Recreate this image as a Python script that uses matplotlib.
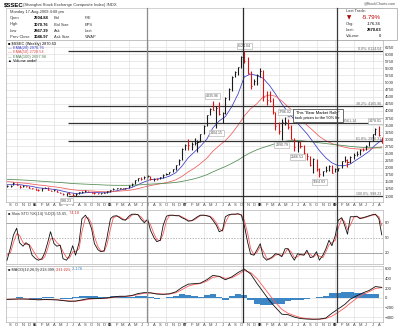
import numpy as np
import pandas as pd
import matplotlib
matplotlib.use("Agg")
import matplotlib.pyplot as plt
import matplotlib.dates as mdates
from matplotlib.lines import Line2D
from matplotlib.patches import Rectangle
from matplotlib.transforms import blended_transform_factory

plt.rcParams["font.family"] = ["Liberation Sans", "DejaVu Sans"]

W, H = 400, 330

# price bars (weekly chart, read twice a month)
bar_dates = pd.date_range("2004-08-15", "2009-08-15", freq="SMS")
bar_high = [1380, 1400, 1496, 1470, 1400, 1375, 1370, 1340, 1300,
            1270, 1240, 1300, 1330, 1310, 1230, 1240, 1220, 1160, 1110, 1100, 1150,
            1090, 1090, 1150, 1170, 1220, 1180, 1160, 1130, 1110, 1110, 1130, 1170,
            1220, 1270, 1300, 1300, 1300, 1300, 1380, 1450, 1560, 1650, 1680, 1690,
            1757, 1710, 1640, 1620, 1680, 1760, 1800, 1840, 1950, 2100, 2300, 2690,
            2850, 3000, 2900, 3050, 2980, 3200, 3500, 3850, 4100, 4335.96, 4180, 4300,
            3950, 4480, 4800, 5220, 5390, 5560, 5920, 6124.04, 5900, 5400, 5130, 5300,
            5522, 5450, 4700, 4700, 4450, 3950, 3600, 3700, 3786.02, 3700, 3500, 3050,
            2950, 2950, 2800, 2500, 2420, 2330, 2290, 2000, 1900, 2050, 2100, 2100,
            1990, 2000, 2250, 2400, 2300, 2400, 2500, 2590, 2650, 2680, 2800, 2950,
            3200, 3400, 3478.01, 3070]
bar_low = [1330, 1330, 1380, 1380, 1300, 1320, 1320, 1280, 1250,
           1220, 1190, 1190, 1280, 1220, 1170, 1170, 1140, 1090, 1040, 998.23, 1060,
           1010, 1010, 1080, 1120, 1140, 1140, 1100, 1080, 1070, 1075, 1090, 1110,
           1160, 1200, 1250, 1260, 1260, 1260, 1290, 1370, 1440, 1540, 1560, 1600,
           1660, 1580, 1540, 1560, 1590, 1650, 1740, 1780, 1830, 1930, 2080, 2270,
           2610, 2640, 2610, 2800, 2540, 2900, 3180, 3460, 3840, 4050, 3404.15, 3850,
           3563, 3900, 4400, 4700, 5200, 5280, 5500, 5700, 5300, 4780, 4900, 4900,
           5200, 4360, 4200, 4300, 3900, 3330, 3200, 2990.79, 3500, 3350, 3000, 2600,
           2566.53, 2700, 2450, 2280, 2050, 1802, 1900, 1664.93, 1700, 1850, 1870, 1814,
           1860, 1880, 1990, 2200, 2037, 2180, 2300, 2400, 2450, 2600, 2620, 2760,
           2950, 3150, 3130, 2867.39]
bar_close = [1342, 1370, 1470, 1390, 1320, 1360, 1340, 1290, 1266,
             1230, 1200, 1290, 1300, 1230, 1180, 1220, 1160, 1100, 1060, 1090, 1080,
             1020, 1080, 1140, 1160, 1180, 1155, 1110, 1095, 1090, 1100, 1120, 1161,
             1210, 1258, 1290, 1290, 1280, 1298, 1370, 1440, 1550, 1620, 1600, 1670,
             1700, 1610, 1610, 1600, 1660, 1750, 1790, 1830, 1940, 2090, 2280, 2675,
             2800, 2790, 2850, 2880, 2920, 3180, 3480, 3840, 4070, 4050, 4100, 3900,
             3910, 4470, 4760, 5210, 5360, 5550, 5900, 5750, 5320, 4870, 5050, 5260,
             5400, 4500, 4400, 4350, 3950, 3470, 3300, 3600, 3600, 3430, 3020, 2740,
             2900, 2760, 2500, 2400, 2080, 2290, 1950, 1770, 1870, 1920, 2050, 1820,
             1950, 1990, 2250, 2260, 2200, 2370, 2450, 2480, 2640, 2630, 2770, 2950,
             3180, 3370, 3160, 2870.63]

# moving averages, read once a month
ma_dates = pd.date_range("2004-08-01", "2009-08-01", freq="MS") + pd.Timedelta(days=14)
ema20 = [1400, 1400, 1400, 1370, 1340,
         1290, 1270, 1250, 1220, 1170, 1120, 1090, 1100, 1130, 1130, 1115, 1120,
         1160, 1210, 1250, 1300, 1400, 1500, 1580, 1600, 1630, 1700, 1820, 2050,
         2350, 2560, 2750, 3000, 3400, 3650, 3800, 4150, 4600, 5200, 5300, 5250,
         5150, 4900, 4600, 4250, 3950, 3700, 3450, 3200, 2900, 2600, 2350, 2170,
         2070, 2070, 2130, 2280, 2420, 2580, 2800, 2976.76]
ema50 = [1510, 1490, 1470, 1450, 1420,
         1390, 1370, 1340, 1315, 1280, 1240, 1210, 1195, 1185, 1170, 1155, 1150,
         1160, 1175, 1190, 1215, 1260, 1320, 1370, 1410, 1450, 1500, 1570, 1690,
         1850, 1990, 2140, 2330, 2580, 2780, 2950, 3200, 3500, 3820, 4080, 4250,
         4500, 4560, 4520, 4350, 4150, 3950, 3700, 3500, 3300, 3100, 2950, 2850,
         2780, 2720, 2680, 2660, 2650, 2660, 2700, 2728.54]
ema100 = [1590, 1580, 1570, 1560, 1545,
          1530, 1515, 1500, 1485, 1470, 1450, 1435, 1425, 1415, 1405, 1395, 1385,
          1380, 1378, 1378, 1382, 1392, 1405, 1420, 1432, 1445, 1460, 1480, 1515,
          1560, 1610, 1670, 1750, 1850, 1950, 2040, 2150, 2270, 2410, 2530, 2630,
          2710, 2780, 2850, 2910, 2945, 2955, 2950, 2930, 2905, 2875, 2850, 2825,
          2800, 2775, 2750, 2730, 2715, 2705, 2700, 2697.96]

# slow stochastics (same dates as the bars)
sto_k = [5, 30, 55, 69, 40, 33, 40, 35, 15, 8,
         5, 8, 20, 40, 62, 38, 33, 35, 8, 5,
         14, 34, 15, 40, 88, 95, 86, 68, 38, 26,
         22, 24, 50, 88, 93, 94, 90, 86, 85, 93,
         97, 97, 96, 86, 80, 87, 65, 50, 42, 45,
         75, 93, 95, 95, 94, 94, 90, 87, 83, 84,
         88, 92, 95, 95, 94, 92, 85, 75, 62, 65,
         92, 96, 97, 97, 98, 95, 75, 40, 17, 15,
         25, 38, 12, 5, 8, 12, 18, 16, 12, 28,
         28, 14, 5, 18, 16, 15, 25, 10, 12, 22,
         5, 15, 27, 45, 34, 55, 85, 90, 75, 57,
         92, 92, 93, 88, 90, 92, 94, 96, 97, 88,
         55.65]
sto_d = [15, 20, 40, 58, 55, 40, 36, 37, 28, 16,
         8, 6, 12, 28, 48, 48, 40, 34, 22, 10,
         9, 22, 22, 28, 62, 90, 90, 78, 52, 32,
         24, 22, 36, 68, 90, 93, 92, 88, 86, 89,
         95, 97, 96, 91, 83, 84, 76, 58, 46, 44,
         58, 84, 94, 95, 94, 94, 92, 88, 85, 84,
         86, 90, 94, 95, 94, 93, 89, 80, 68, 63,
         80, 94, 97, 97, 97, 96, 85, 58, 28, 16,
         20, 32, 24, 9, 7, 10, 15, 17, 14, 20,
         28, 21, 10, 12, 17, 16, 20, 17, 11, 17,
         13, 10, 21, 36, 40, 45, 70, 88, 82, 66,
         75, 91, 92, 90, 89, 91, 93, 95, 96, 92,
         74.18]

# MACD(12,26,9), monthly readings
macd_line = [-35, -30, -25, -28, -35,
             -45, -38, -40, -45, -60, -75, -70, -45, -20, -15, -15, -5,
             15, 30, 30, 45, 85, 105, 100, 75, 70, 80, 120, 210,
             280, 290, 300, 370, 460, 440, 370, 430, 520, 590, 490, 300,
             120, -60, -200, -340, -350, -400, -430, -440, -445, -440, -420, -320,
             -230, -140, -30, 40, 100, 150, 230, 213.399]
macd_signal = [-30, -30, -28, -27, -30,
               -38, -40, -40, -42, -52, -65, -70, -58, -35, -22, -17, -10,
               5, 20, 27, 38, 65, 92, 100, 85, 74, 76, 100, 165,
               240, 275, 292, 340, 420, 440, 400, 410, 480, 560, 520, 400,
               230, 60, -100, -240, -320, -370, -410, -430, -440, -445, -430, -380,
               -300, -210, -110, -10, 65, 125, 190, 211.221]
macd_hist = [-15, -10, 10, -10, -20,
             -25, 10, 5, -10, -25, -30, 5, 35, 40, 25, 10, 15,
             30, 30, 10, 20, 45, 35, 5, -25, -10, 15, 45, 70,
             60, 30, 20, 50, 70, 10, -50, 40, 70, 60, -40, -130,
             -150, -160, -140, -120, -60, -50, -40, -30, -10, 15, 30, 90,
             100, 110, 110, 100, 90, 80, 70, 2.178]

# fibonacci retracement from the 2005 low to the 2007 high
fib_start = pd.Timestamp("2005-06-06")
fib_pcts = ["0.0%", "38.2%", "50.0%", "61.8%", "100.0%"]
fib_levels = [6124.04, 4165.96, 3561.14, 2956.31, 998.23]
fib_label_x = [0.995, 0.995, 0.93, 0.995, 0.995]

# price labels on the bars: bar index, which end, alignment
label_idx = [76, 66, 67, 89, 88, 93, 100, 119, 19]
label_side = ["top", "top", "bottom", "top", "bottom", "bottom", "bottom", "top", "bottom"]
label_ha = ["center", "center", "center", "center", "center", "center", "center", "right", "center"]

marker_dates = ["2006-06-30", "2007-10-07", "2009-01-07"]
marker_colors = ["#8c8c8c", "#2a2a2a", "#3a3a3a"]

quote_rows = [("Open", "2904.88", "Bid", "P/E"),
              ("High", "3070.76", "Bid Size", "EPS"),
              ("Low", "2867.39", "Ask", "Last"),
              ("Prev Close", "3046.97", "Ask Size", "VWAP")]
last_rows = [("Chg:", "-176.34"), ("Last:", "2870.63"), ("Volume:", "0")]

bx = mdates.date2num(bar_dates.to_pydatetime())
mx = mdates.date2num(ma_dates.to_pydatetime())
x_start = mdates.date2num(pd.Timestamp("2004-08-10").to_pydatetime())
x_end = mdates.date2num(pd.Timestamp("2009-08-21").to_pydatetime())
quarters = mdates.date2num(pd.date_range("2004-10-01", "2009-07-01", freq="QS").to_pydatetime())
months = pd.date_range("2004-09-01", "2009-08-01", freq="MS")
month_x = mdates.date2num(months.to_pydatetime())
month_labels = [d.strftime("%y") if d.month == 1 else d.strftime("%b")[0] for d in months]

fig = plt.figure(figsize=(W / 100, H / 100), dpi=100)
fig.patch.set_facecolor("white")


def ftext(x, y, s, **kw):
    kw.setdefault("va", "center")
    return fig.text(x / W, 1 - y / H, s, **kw)


def style_panel(ax, show_months):
    for s in ax.spines.values():
        s.set_color("#b4b4b4")
        s.set_linewidth(0.5)
    ax.yaxis.tick_right()
    ax.tick_params(axis="y", length=0, labelsize=3.1, pad=1.2, colors="#333333")
    ax.tick_params(axis="x", length=0, labelsize=2.9, pad=1.0, colors="#444444")
    ax.set_xlim(x_start, x_end)
    for q in quarters:
        ax.axvline(q, color="#e2e2e2", lw=0.5, zorder=0)
    ax.set_xticks(month_x)
    if show_months:
        ax.set_xticklabels(month_labels)
        for lbl in ax.get_xticklabels():
            if len(lbl.get_text()) == 2:
                lbl.set_fontweight("bold")
                lbl.set_color("#111111")
    else:
        ax.set_xticklabels([])


# header
ftext(4, 4.5, "$SSEC", fontsize=4.3, weight="bold")
ftext(23, 4.7, "(Shanghai Stock Exchange Composite Index) INDX", fontsize=3.0, color="#333333")
ftext(396, 3.8, "@StockCharts.com", fontsize=2.7, color="#555555", ha="right")
fig.add_artist(Rectangle((6 / W, 1 - 40 / H), 377 / W, 32 / H, transform=fig.transFigure,
                         fill=False, ec="#c0c0c0", lw=0.5))
fig.add_artist(Rectangle((337 / W, 1 - 40 / H), 60 / W, 32 / H, transform=fig.transFigure,
                         fc="white", ec="#a0a0a0", lw=0.5))
ftext(10, 12.3, "Monday 17-Aug-2009 4:08 pm", fontsize=2.9, color="#333333")
for i, (a, b, c, d) in enumerate(quote_rows):
    y = 18.3 + 6.2 * i
    ftext(10, y, a, fontsize=2.9, color="#333333")
    ftext(34, y, b, fontsize=3.0, weight="bold")
    ftext(54, y, c, fontsize=2.9, color="#333333")
    ftext(85, y, d, fontsize=2.9, color="#333333")
ftext(346, 11.3, "Last Trade:", fontsize=2.9, color="#333333")
ftext(347, 17.3, "\u25bc", fontsize=4.0, color="#b00000", family="DejaVu Sans")
ftext(381, 17.3, "-5.79%", fontsize=4.3, color="#c00000", ha="right")
for i, (a, b) in enumerate(last_rows):
    y = 24.0 + 6.2 * i
    ftext(346, y, a, fontsize=2.9, color="#333333")
    ftext(381, y, b, fontsize=3.0, ha="right", weight="bold" if a == "Last:" else "normal")

# price panel
ax = fig.add_axes([6 / W, 1 - 202 / H, 377 / W, 162 / H])
style_panel(ax, True)
ax.set_ylim(790, 6500)
ax.set_yticks(np.arange(1000, 6251, 250))
ax.grid(axis="y", color="#e2e2e2", lw=0.5, zorder=0)
ax.set_axisbelow(True)

closes = np.array(bar_close)
prev = np.r_[closes[0], closes[:-1]]
bar_colors = np.where(closes < prev, "#e01010", "#1a1a1a")
ax.vlines(bx, bar_low, bar_high, colors=bar_colors, lw=0.8, zorder=3)
ax.hlines(bar_close, bx, bx + 5, colors=bar_colors, lw=0.7, zorder=3)

ax.plot(mx, ema20, color="#3838c8", lw=0.55, zorder=2)
ax.plot(mx, ema50, color="#f05a5a", lw=0.55, zorder=2)
ax.plot(mx, ema100, color="#4f8a4f", lw=0.55, zorder=2)

fx0 = mdates.date2num(fib_start.to_pydatetime())
ax.hlines(fib_levels, fx0, x_end, colors="#333333", lw=0.9, zorder=2)
ytrans = blended_transform_factory(ax.transAxes, ax.transData)
for p, lv, lx in zip(fib_pcts, fib_levels, fib_label_x):
    ax.text(lx, lv, f"{p}: {lv:.2f}", transform=ytrans, ha="right", va="bottom",
            fontsize=2.6, color="#666666", zorder=4)

for i, side, ha in zip(label_idx, label_side, label_ha):
    if side == "top":
        v, off, va = bar_high[i], 2.2, "bottom"
    else:
        v, off, va = bar_low[i], -2.2, "top"
    ax.annotate(f"{v:.2f}", (bx[i], v), xytext=(2 if ha == "right" else 0, off),
                textcoords="offset points", ha=ha, va=va, fontsize=2.6, color="#555555",
                bbox=dict(boxstyle="square,pad=0.25", fc="white", ec="#a8a8a8", lw=0.4),
                zorder=5)

ax.annotate('This "Bear Market Rally"\ntook prices to the 50% fib.',
            xy=(bx[89], bar_high[89]), xytext=(318 / W, 1 - 115.5 / H),
            textcoords="figure fraction", ha="center", va="center", fontsize=2.9,
            bbox=dict(boxstyle="square,pad=0.5", fc="white", ec="#333333", lw=0.5),
            arrowprops=dict(arrowstyle="-", color="#333333", lw=0.5), zorder=6)

ftext(8, 43.5, "\u25a0 $SSEC (Weekly) 2870.63", fontsize=2.8)
ftext(8, 48.0, "\u2014 EMA(20) 2976.76", fontsize=2.8, color="#3838c8")
ftext(8, 52.5, "\u2014 EMA(50) 2728.54", fontsize=2.8, color="#e04848")
ftext(8, 57.0, "\u2014 EMA(100) 2697.96", fontsize=2.8, color="#4f7a4f")
ftext(8, 61.5, "\u25b2 Volume undef", fontsize=2.8)

# slow stochastics panel
ax_sto = fig.add_axes([6 / W, 1 - 264 / H, 377 / W, 54 / H])
style_panel(ax_sto, False)
ax_sto.set_ylim(-2.6, 105.4)
ax_sto.set_yticks([20, 50, 80])
ax_sto.axhline(80, color="#9a9a9a", lw=0.6, zorder=1)
ax_sto.axhline(50, color="#9a9a9a", lw=0.5, ls=(0, (2, 2)), zorder=1)
ax_sto.axhline(20, color="#9a9a9a", lw=0.6, zorder=1)
ax_sto.plot(bx, sto_d, color="#ff5a5a", lw=0.6, zorder=3)
ax_sto.plot(bx, sto_k, color="#111111", lw=0.6, zorder=4)
t1 = ftext(8, 213.5, "\u25a0 Slow STO %K(14) %D(3) 55.65,", fontsize=2.8, color="#333333")
ax_sto.annotate(" 74.18", xy=(1, 0.5), xycoords=t1, va="center", ha="left",
                fontsize=2.8, color="#e03030")

# MACD panel
ax_m = fig.add_axes([6 / W, 1 - 322 / H, 377 / W, 56 / H])
style_panel(ax_m, True)
ax_m.set_ylim(-501, 654)
ax_m.set_yticks([-400, -200, 0, 200, 400, 600])
ax_m.grid(axis="y", color="#e2e2e2", lw=0.5, zorder=0)
ax_m.set_axisbelow(True)
ax_m.bar(mx, macd_hist, width=31, color="#3d86c6", lw=0, zorder=2)
ax_m.plot(mx, macd_signal, color="#ff5a5a", lw=0.6, zorder=3)
ax_m.plot(mx, macd_line, color="#111111", lw=0.6, zorder=4)
t2 = ftext(8, 269.5, "\u25a0 MACD(12,26,9) 213.399,", fontsize=2.8, color="#333333")
t3 = ax_m.annotate(" 211.221,", xy=(1, 0.5), xycoords=t2, va="center", ha="left",
                   fontsize=2.8, color="#e03030")
ax_m.annotate(" 2.178", xy=(1, 0.5), xycoords=t3, va="center", ha="left",
              fontsize=2.8, color="#3d86c6")

# vertical marker lines through every panel
vtrans = blended_transform_factory(ax.transData, fig.transFigure)
for d, c in zip(marker_dates, marker_colors):
    xd = mdates.date2num(pd.Timestamp(d).to_pydatetime())
    fig.add_artist(Line2D([xd, xd], [1 - 8 / H, 1 - 322 / H], transform=vtrans,
                          color=c, lw=0.9, zorder=10))

fig.savefig("out.png", dpi=100)
